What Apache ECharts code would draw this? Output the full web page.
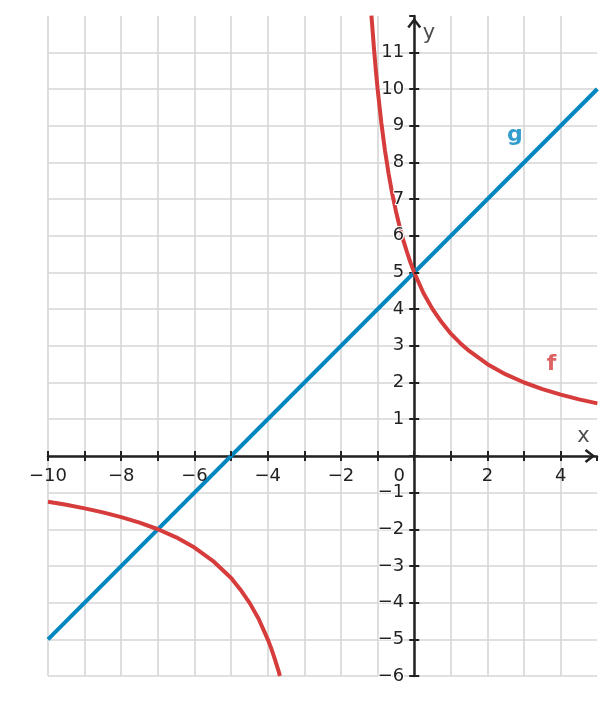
<!DOCTYPE html>
<html>
<head>
    <meta charset="utf-8">
    <title>f und g</title>
    <script src="https://cdn.jsdelivr.net/npm/echarts@6/dist/echarts.min.js"></script>
    <style>
        body { margin: 0; background: #fff; }
    </style>
</head>
<body>
<div id="chart" style="width:615px; height:705px;"></div>
<script>
    // values
    var fLeftX  = [-10, -9.5, -9, -8.5, -8, -7.5, -7, -6.5, -6, -5.5, -5, -4.75, -4.5, -4.25, -4, -3.9, -3.8, -3.7, -3.67];
    var fLeftY  = [-1.25, -1.33, -1.43, -1.54, -1.67, -1.82, -2, -2.22, -2.5, -2.86, -3.33, -3.64, -4, -4.44, -5, -5.26, -5.56, -5.88, -6];
    var fRightX = [-1.17, -1.15, -1.1, -1.05, -1, -0.9, -0.8, -0.7, -0.6, -0.5, -0.4, -0.3, -0.2, -0.1, 0, 0.25, 0.5, 0.75, 1, 1.25, 1.5, 2, 2.5, 3, 3.5, 4, 4.5, 5];
    var fRightY = [12, 11.76, 11.11, 10.53, 10, 9.09, 8.33, 7.69, 7.14, 6.67, 6.25, 5.88, 5.56, 5.26, 5, 4.44, 4, 3.64, 3.33, 3.08, 2.86, 2.5, 2.22, 2, 1.82, 1.67, 1.54, 1.43];
    var gX = [-10, 5];
    var gY = [-5, 10];
    var labelNames = ['g', 'f', 'x', 'y'];
    var labelX = [2.75, 3.75, 4.62, 0.4];
    var labelY = [8.75, 2.5, 0.52, 11.5];

    var RED = '#d63c3c', BLUE = '#0086c0', INK = '#222222', GRID = '#d6d6d6';
    var FONT = 'DejaVu Sans';

    function pairs(xs, ys) {
        var out = [];
        for (var i = 0; i < xs.length; i++) out.push([xs[i], ys[i]]);
        return out;
    }
    function minus(v) {
        return String(v).replace('-', '\u2212');
    }

    // open arrow head for the axis ends
    var chevron = 'path://M7,0 L14,9 L12,10.6 L7,4 L2,10.6 L0,9 Z';

    var W = 615, H = 705;
    var gridBox = { left: 48, right: 18, top: 16, bottom: 29, containLabel: false, outerBoundsMode: 'none' };
    var xRange = { type: 'value', min: -10, max: 4.99, interval: 1 };
    var yRange = { type: 'value', min: -6, max: 11.99, interval: 1 };

    // axes cross at the origin: shift them in from the grid edges
    var plotW = W - gridBox.left - gridBox.right;
    var plotH = H - gridBox.top - gridBox.bottom;
    var yShift = -(0 - xRange.min) / (xRange.max - xRange.min) * plotW;
    var xShift = -(0 - yRange.min) / (yRange.max - yRange.min) * plotH;

    var myChart = echarts.init(document.getElementById('chart'));

    var option = {
        animation: false,
        // grid 0 (under the curves): grid lines, axis lines, outer half of ticks
        // grid 1 (over the curves): inner half of ticks, tick labels
        grid: [echarts.util.clone(gridBox), echarts.util.clone(gridBox)],
        xAxis: [
            echarts.util.merge({
                gridIndex: 0, z: 0, position: 'bottom', offset: xShift,
                axisLine: { onZero: false, lineStyle: { color: INK, width: 2.5 },
                    symbol: ['none', chevron], symbolSize: [14, 11], symbolOffset: [0, -7] },
                axisTick: { show: true, inside: false, length: 5, lineStyle: { color: INK, width: 2 } },
                axisLabel: { show: false },
                splitLine: { show: true, showMaxLine: false, lineStyle: { color: GRID, width: 1.6 } }
            }, xRange, true),
            echarts.util.merge({
                gridIndex: 1, z: 4, position: 'bottom', offset: xShift,
                axisLine: { show: false, onZero: false },
                axisTick: { show: true, inside: true, length: 5, lineStyle: { color: INK, width: 2 } },
                axisLabel: {
                    margin: 11, color: INK, fontFamily: FONT, fontSize: 18,
                    showMinLabel: true, showMaxLabel: false,
                    formatter: function (v) {
                        if (v === 0) return '{z|0}';
                        if (Math.round(v) % 2 !== 0) return '';
                        return minus(v);
                    },
                    rich: { z: { padding: [0, 30, 0, 0], fontFamily: FONT, fontSize: 18, color: INK } }
                },
                splitLine: { show: false }
            }, xRange, true)
        ],
        yAxis: [
            echarts.util.merge({
                gridIndex: 0, z: 0, position: 'left', offset: yShift,
                axisLine: { onZero: false, lineStyle: { color: INK, width: 2.5 },
                    symbol: ['none', chevron], symbolSize: [14, 11], symbolOffset: [0, -7] },
                axisTick: { show: true, inside: false, length: 5, lineStyle: { color: INK, width: 2 } },
                axisLabel: { show: false },
                splitLine: { show: true, showMaxLine: false, lineStyle: { color: GRID, width: 1.6 } }
            }, yRange, true),
            echarts.util.merge({
                gridIndex: 1, z: 4, position: 'left', offset: yShift,
                axisLine: { show: false, onZero: false },
                axisTick: { show: true, inside: true, length: 5, lineStyle: { color: INK, width: 2 } },
                axisLabel: {
                    margin: 10, color: INK, fontFamily: FONT, fontSize: 18,
                    textBorderColor: '#fff', textBorderWidth: 2,
                    showMinLabel: true, showMaxLabel: false,
                    formatter: function (v) {
                        if (v === 0) return '';
                        return minus(v);
                    }
                },
                splitLine: { show: false }
            }, yRange, true)
        ],
        series: [
            {
                name: 'g', type: 'line', data: pairs(gX, gY),
                showSymbol: false, clip: true,
                lineStyle: { color: BLUE, width: 4 }
            },
            {
                name: 'f', type: 'line', data: pairs(fLeftX, fLeftY),
                showSymbol: false, clip: true,
                lineStyle: { color: RED, width: 4 }
            },
            {
                name: 'f', type: 'line', data: pairs(fRightX, fRightY),
                showSymbol: false, clip: true,
                lineStyle: { color: RED, width: 4 }
            },
            {
                name: 'labels', type: 'scatter', symbolSize: 0, z: 5,
                data: labelNames.map(function (n, i) {
                    var c = n === 'f' ? RED : (n === 'g' ? BLUE : INK);
                    var bold = (n === 'f' || n === 'g');
                    return {
                        value: [labelX[i], labelY[i]],
                        label: {
                            show: true, position: 'inside', formatter: n,
                            color: c, fontFamily: FONT, fontSize: bold ? 22 : 21,
                            fontWeight: bold ? 'bold' : 'normal'
                        }
                    };
                })
            }
        ]
    };

    myChart.setOption(option);
</script>
</body>
</html>
